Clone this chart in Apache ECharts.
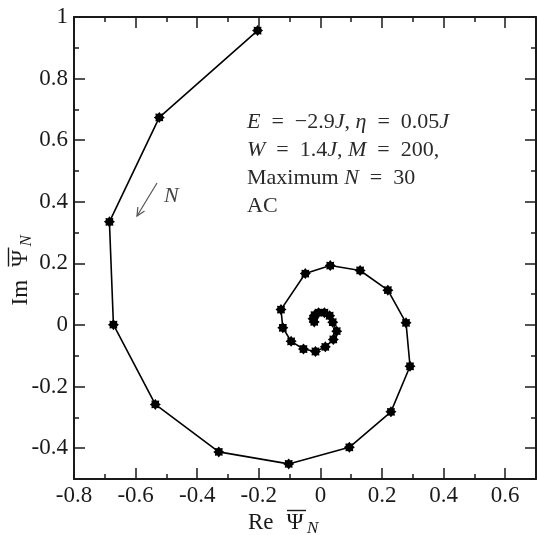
<!DOCTYPE html>
<html>
<head>
<meta charset="utf-8">
<script src="https://cdn.jsdelivr.net/npm/echarts@6/dist/echarts.min.js"></script>
<style>
  html, body { margin: 0; padding: 0; background: #fff; }
  #chart { width: 537px; height: 535px; }
</style>
</head>
<body>
<div id="chart"></div>
<script>
// Spiral of the averaged amplitude, N = 1 .. 30
const reValues = [
  -0.204, -0.523, -0.685, -0.672, -0.536, -0.330, -0.103, 0.094, 0.229, 0.291,
   0.278,  0.219,  0.129,  0.032, -0.049, -0.128, -0.122, -0.095, -0.055, -0.016,
   0.016,  0.042,  0.053,  0.040,  0.030,  0.013, -0.006, -0.019, -0.024, -0.020
];
const imValues = [
   0.956,  0.674,  0.335,  0.001, -0.258, -0.412, -0.451, -0.397, -0.282, -0.134,
   0.007,  0.113,  0.177,  0.193,  0.167,  0.050, -0.009, -0.053, -0.078, -0.086,
  -0.071, -0.047, -0.020,  0.009,  0.030,  0.040,  0.040,  0.032,  0.020,  0.010
];

// Axis ranges and tick positions
const xRange = [-0.8, 0.7];
const yRange = [-0.5, 1.0];
const xMajorTicks = [-0.8, -0.6, -0.4, -0.2, 0, 0.2, 0.4, 0.6];
const xMinorTicks = [-0.7, -0.5, -0.3, -0.1, 0.1, 0.3, 0.5];
const yMajorTicks = [-0.4, -0.2, 0, 0.2, 0.4, 0.6, 0.8, 1.0];
const yMinorTicks = [-0.3, -0.1, 0.1, 0.3, 0.5, 0.7, 0.9];

// Annotation lines ({i|...} = italic math symbol, en spaces around "=")
const noteLines = [
  '{i|E}\u2002=\u2002−2.9{i|J}, {i|η}\u2002=\u20020.05{i|J}',
  '{i|W}\u2002=\u20021.4{i|J}, {i|M}\u2002=\u2002200,',
  'Maximum {i|N}\u2002=\u200230',
  'AC'
];

const FONT = '"Liberation Serif", "Times New Roman", serif';
const INK = '#1a1a1a';

// 8-spike star marker
function starSymbol(spikes, inner) {
  let d = '';
  for (let i = 0; i < spikes * 2; i++) {
    const a = i * Math.PI / spikes - Math.PI / 2;
    const r = i % 2 ? inner : 1;
    const x = (10 + 10 * r * Math.cos(a)).toFixed(3);
    const y = (10 + 10 * r * Math.sin(a)).toFixed(3);
    d += (i ? 'L' : 'M') + x + ' ' + y + ' ';
  }
  return 'path://' + d + 'Z';
}

function axisPair(kind, pos, range, major, minor, withLabels) {
  const base = {
    type: 'value', position: pos, min: range[0], max: range[1],
    splitLine: { show: false }
  };
  return [
    Object.assign({}, base, {
      axisLine: { show: true, onZero: false, lineStyle: { color: INK, width: 2 } },
      axisTick: { show: true, inside: true, length: 11, customValues: major,
                  lineStyle: { color: INK, width: 1.5 } },
      axisLabel: withLabels ? {
        show: true, customValues: major, margin: kind === 'x' ? 5 : 6,
        fontFamily: FONT, fontSize: 23, color: INK
      } : { show: false }
    }),
    Object.assign({}, base, {
      axisLine: { show: false, onZero: false },
      axisTick: { show: true, inside: true, length: 5, customValues: minor,
                  lineStyle: { color: INK, width: 1.5 } },
      axisLabel: { show: false }
    })
  ];
}

// Axis title "Re Ψ̄_N" / "Im Ψ̄_N" built from pieces so Ψ can carry an overline
function axisTitle(prefix) {
  return [
    { type: 'text', x: -38.5, y: 0,
      style: { text: prefix, font: '23px ' + FONT, fill: INK,
               textAlign: 'left', textVerticalAlign: 'middle' } },
    { type: 'text', x: 0, y: 0,
      style: { text: 'Ψ', font: '23px ' + FONT, fill: INK,
               textAlign: 'left', textVerticalAlign: 'middle' } },
    { type: 'line', shape: { x1: 0.5, y1: -12.5, x2: 19.5, y2: -12.5 },
      style: { stroke: INK, lineWidth: 1.4 } },
    { type: 'text', x: 20.5, y: 5.5,
      style: { text: 'N', font: 'italic 17px ' + FONT, fill: INK,
               textAlign: 'left', textVerticalAlign: 'middle' } }
  ];
}

// Small "direction of N" arrow
function arrowGraphic(x1, y1, x2, y2, head) {
  const a = Math.atan2(y2 - y1, x2 - x1);
  const h1 = [x2 - head * Math.cos(a - 0.45), y2 - head * Math.sin(a - 0.45)];
  const h2 = [x2 - head * Math.cos(a + 0.45), y2 - head * Math.sin(a + 0.45)];
  const st = { stroke: '#555', lineWidth: 1.2, fill: null };
  return [
    { type: 'line', shape: { x1: x1, y1: y1, x2: x2, y2: y2 }, style: st },
    { type: 'polyline', shape: { points: [h1, [x2, y2], h2] }, style: st }
  ];
}

const chart = echarts.init(document.getElementById('chart'), null, { renderer: 'canvas' });

const points = reValues.map((x, i) => [x, imValues[i]]);

const graphics = [];
noteLines.forEach((t, i) => {
  graphics.push({
    type: 'text', x: 247, y: 122 + i * 28,
    style: {
      text: t, fill: '#2a2a2a', fontFamily: FONT, fontSize: 22,
      textAlign: 'left', textVerticalAlign: 'middle',
      rich: { i: { fontStyle: 'italic', fontFamily: FONT, fontSize: 22, fill: '#2a2a2a' } }
    }
  });
});
arrowGraphic(157, 183, 137, 216, 9).forEach(g => graphics.push(g));
graphics.push({
  type: 'text', x: 164, y: 196,
  style: { text: 'N', font: 'italic 22px ' + FONT, fill: '#444',
           textAlign: 'left', textVerticalAlign: 'middle' }
});
graphics.push({ type: 'group', x: 286.5, y: 523, children: axisTitle('Re') });
graphics.push({ type: 'group', x: 21, y: 267, rotation: Math.PI / 2, children: axisTitle('Im') });

chart.setOption({
  animation: false,
  backgroundColor: '#fff',
  grid: { left: 74, top: 17, right: 1, bottom: 56, containLabel: false },
  xAxis: [].concat(
    axisPair('x', 'bottom', xRange, xMajorTicks, xMinorTicks, true),
    axisPair('x', 'top', xRange, xMajorTicks, xMinorTicks, false)
  ),
  yAxis: [].concat(
    axisPair('y', 'left', yRange, yMajorTicks, yMinorTicks, true),
    axisPair('y', 'right', yRange, yMajorTicks, yMinorTicks, false)
  ),
  series: [{
    type: 'line',
    xAxisIndex: 0, yAxisIndex: 0,
    data: points,
    symbol: starSymbol(8, 0.72),
    symbolSize: 11,
    showAllSymbol: true,
    clip: false,
    lineStyle: { color: '#000', width: 1.6 },
    itemStyle: { color: '#000' }
  }],
  graphic: graphics
});
</script>
</body>
</html>
